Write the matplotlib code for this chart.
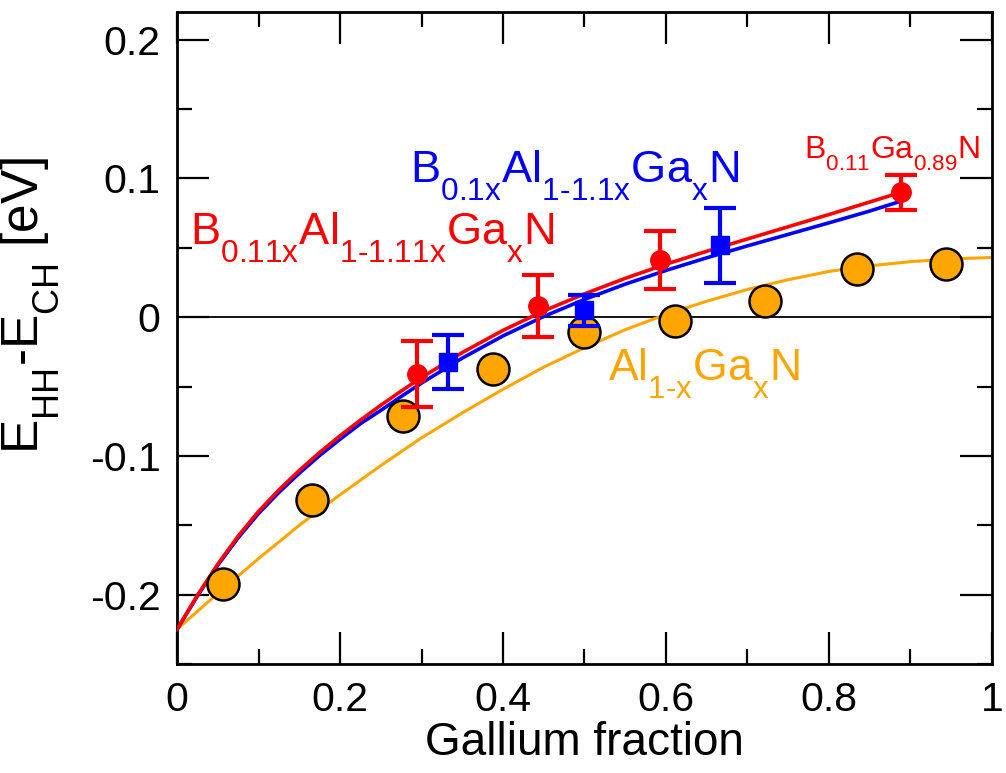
import numpy as np
import matplotlib
matplotlib.use("Agg")
import matplotlib.pyplot as plt
import matplotlib._mathtext as mt
from matplotlib.ticker import MultipleLocator

plt.rcParams['font.family'] = ['Liberation Sans', 'DejaVu Sans']
plt.rcParams['mathtext.fontset'] = 'custom'
plt.rcParams['mathtext.rm'] = 'Liberation Sans'
plt.rcParams['mathtext.it'] = 'Liberation Sans'
plt.rcParams['mathtext.default'] = 'regular'
# deeper subscripts, like the original
mt.FontConstantsBase.sub1 = 0.75

# Al(1-x)Ga(x)N calculated points
algan_x = [0.056, 0.165, 0.277, 0.388, 0.499, 0.611, 0.722, 0.834, 0.944]
algan_y = [-0.192, -0.132, -0.071, -0.037, -0.011, -0.003, 0.012, 0.035, 0.038]

# B(0.11x)Al(1-1.11x)Ga(x)N points with error bars
bal11_x = [0.295, 0.443, 0.593, 0.889]
bal11_y = [-0.041, 0.008, 0.041, 0.090]
bal11_err = [0.0235, 0.0225, 0.021, 0.0125]

# B(0.1x)Al(1-1.1x)Ga(x)N points with error bars
bal10_x = [0.333, 0.500, 0.666]
bal10_y = [-0.032, 0.005, 0.052]
bal10_err = [0.0195, 0.011, 0.027]

# fitted curves
red_cx = [0, 0.025, 0.05, 0.075, 0.10, 0.125, 0.15, 0.175, 0.20, 0.225,
          0.25, 0.275, 0.30, 0.35, 0.40, 0.45, 0.50, 0.55, 0.60, 0.65,
          0.70, 0.75, 0.80, 0.85, 0.887]
red_cy = [-0.225, -0.2005, -0.178, -0.1578, -0.140, -0.1245, -0.1105,
          -0.0975, -0.0855, -0.0742, -0.0635, -0.0533, -0.0435, -0.0255,
          -0.0095, 0.0045, 0.0168, 0.0280, 0.0382, 0.0475, 0.0564, 0.0652,
          0.0740, 0.0830, 0.0898]
blue_cx = [0, 0.025, 0.05, 0.075, 0.10, 0.125, 0.15, 0.175, 0.20, 0.225,
           0.25, 0.275, 0.30, 0.35, 0.40, 0.45, 0.50, 0.55, 0.60, 0.65,
           0.70, 0.75, 0.80, 0.85, 0.885]
blue_cy = [-0.225, -0.201, -0.1788, -0.159, -0.1415, -0.1263, -0.1125,
           -0.0997, -0.088, -0.0768, -0.0672, -0.0572, -0.0475, -0.0295,
           -0.0135, 0.0005, 0.0128, 0.0238, 0.0337, 0.0428, 0.0514, 0.0597,
           0.0680, 0.0765, 0.0830]
orange_cx = [0, 0.05, 0.10, 0.15, 0.20, 0.25, 0.30, 0.35, 0.40, 0.45, 0.50,
             0.55, 0.60, 0.65, 0.70, 0.75, 0.80, 0.85, 0.90, 0.95, 1.00]
orange_cy = [-0.225, -0.199, -0.174, -0.150, -0.128, -0.107, -0.087, -0.069,
             -0.052, -0.036, -0.022, -0.009, 0.002, 0.0115, 0.020, 0.027,
             0.033, 0.037, 0.040, 0.042, 0.043]

fig = plt.figure(figsize=(10.06, 7.73), dpi=100)
ax = fig.add_axes([0.176, 0.141, 0.810, 0.8435])

ax.axhline(0, color='black', lw=1.3, zorder=1)
ax.plot(orange_cx, orange_cy, color='#FFA500', lw=2.2, zorder=2)
ax.plot(blue_cx, blue_cy, color='#0000FF', lw=2.6, zorder=3)
ax.plot(red_cx, red_cy, color='#FF0000', lw=2.6, zorder=4)
ax.plot(algan_x, algan_y, 'o', ms=23, mfc='#FFA500', mec='black', mew=1.8,
        ls='none', zorder=5)
ax.errorbar(bal10_x, bal10_y, yerr=bal10_err, fmt='s', color='#0000FF',
            ms=13, capsize=11.5, elinewidth=3, capthick=3, zorder=6)
ax.errorbar(bal11_x, bal11_y, yerr=bal11_err, fmt='o', color='#FF0000',
            ms=14, capsize=11.5, elinewidth=3, capthick=3, zorder=7)

ax.text(0.016, 0.0525, r'B$_{0.11x}$Al$_{1\text{-}1.11x}$Ga$_x$N',
        color='#FF0000', fontsize=32.5, va='baseline')
ax.text(0.286, 0.0978, r'B$_{0.1x}$Al$_{1\text{-}1.1x}$Ga$_x$N',
        color='#0000FF', fontsize=32.5, va='baseline')
ax.text(0.770, 0.1144, r'B$_{0.11}$Ga$_{0.89}$N',
        color='#FF0000', fontsize=23, va='baseline')
ax.text(0.529, -0.0453, r'Al$_{1\text{-}x}$Ga$_x$N',
        color='#FFA500', fontsize=32, va='baseline')

ax.set_xlim(0, 1)
ax.set_ylim(-0.25, 0.22)
ax.xaxis.set_major_locator(MultipleLocator(0.2))
ax.xaxis.set_minor_locator(MultipleLocator(0.1))
ax.yaxis.set_major_locator(MultipleLocator(0.1))
ax.yaxis.set_minor_locator(MultipleLocator(0.05))
ax.set_xticks([0, 0.2, 0.4, 0.6, 0.8, 1.0])
ax.set_xticklabels(['0', '0.2', '0.4', '0.6', '0.8', '1'])
ax.set_yticks([-0.2, -0.1, 0, 0.1, 0.2])
ax.set_yticklabels(['-0.2', '-0.1', '0', '0.1', '0.2'])
ax.tick_params(which='both', direction='in', top=True, right=True, width=1.6,
               labelsize=29.5)
ax.tick_params(which='major', length=23, pad=12)
ax.tick_params(which='minor', length=11)
for s in ax.spines.values():
    s.set_linewidth(2)

ax.set_xlabel('Gallium fraction', fontsize=33, labelpad=2)
ax.set_ylabel(r'E$_{HH}$-E$_{CH}$ [eV]', fontsize=37)
ax.yaxis.set_label_coords(-0.142, 0.55)

fig.savefig('out.png', dpi=100)
